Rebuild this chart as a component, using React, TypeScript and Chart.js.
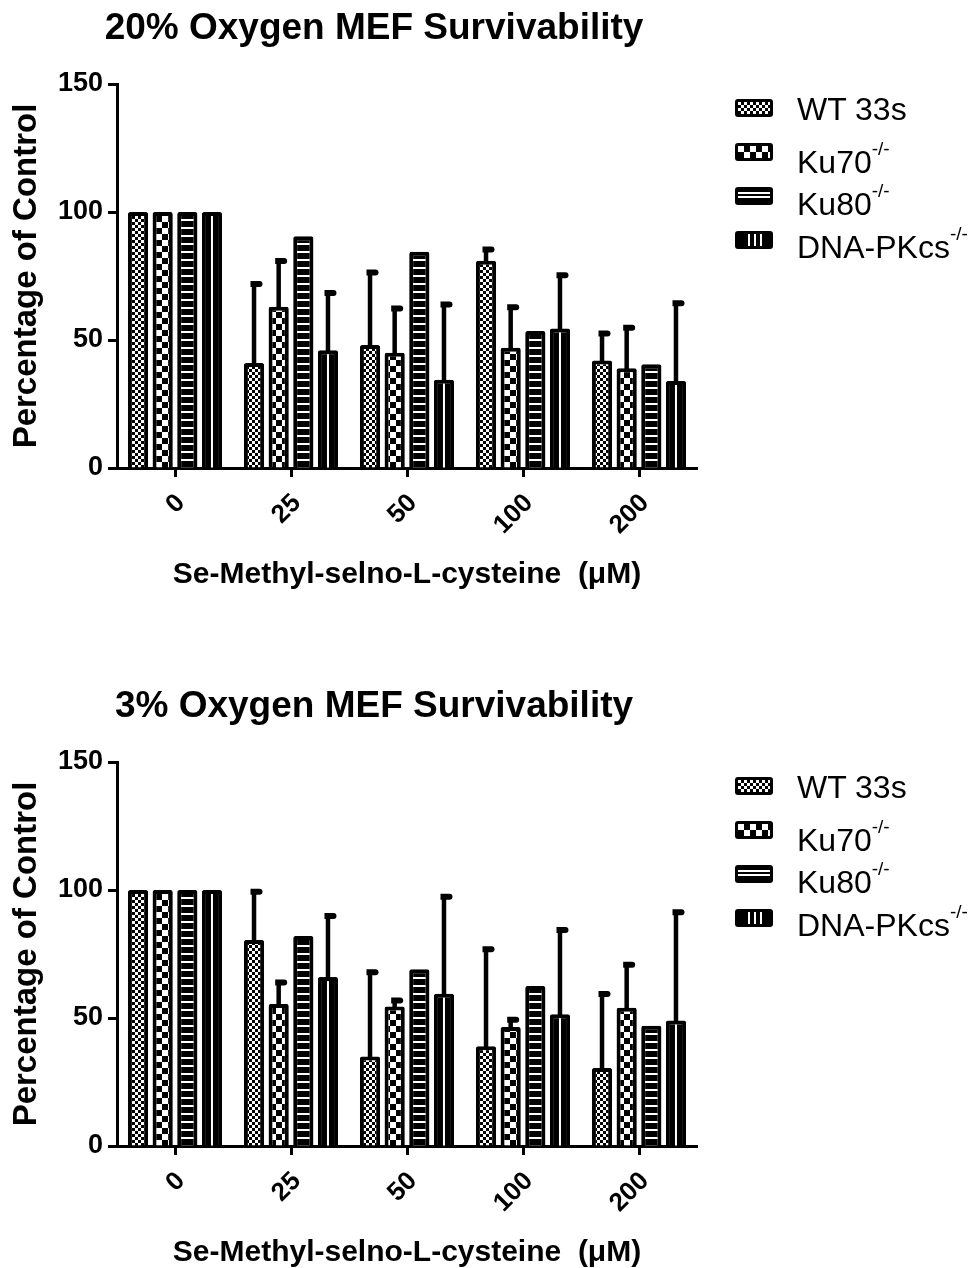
import React, { useEffect, useRef } from 'react';
import { Chart, registerables } from 'chart.js';

Chart.register(...registerables);

const FONT = "'Liberation Sans', Arial, Helvetica, sans-serif";

const categories = ['0', '25', '50', '100', '200'];
const yTickValues = [0, 50, 100, 150];
const xAxisTitle = 'Se-Methyl-selno-L-cysteine  (\u03BCM)';
const yAxisTitle = 'Percentage of Control';
const seriesLabels = ['WT 33s', 'Ku70', 'Ku80', 'DNA-PKcs'];
const seriesSuperscripts = ['', '-/-', '-/-', '-/-'];

// 20% oxygen
const o20Title = '20% Oxygen MEF Survivability';
const o20WT = [100, 41, 48, 81, 42];
const o20WTErr = [0, 32, 29.5, 5.5, 11.7];
const o20Ku70 = [100, 63, 45, 47, 39];
const o20Ku70Err = [0, 19, 18.5, 17, 17];
const o20Ku80 = [100, 90.5, 84.5, 53.5, 40.5];
const o20Ku80Err = [0, 0, 0, 0, 0];
const o20DNA = [100, 46, 34.5, 54.5, 34];
const o20DNAErr = [0, 23.5, 30.5, 22, 31.5];

// 3% oxygen
const o3Title = '3% Oxygen MEF Survivability';
const o3WT = [100, 80.5, 35, 39, 30.5];
const o3WTErr = [0, 20, 34, 39, 30];
const o3Ku70 = [100, 55.5, 54.5, 46.5, 54];
const o3Ku70Err = [0, 9.5, 3.5, 4, 18];
const o3Ku80 = [100, 82, 69, 62.5, 47];
const o3Ku80Err = [0, 0, 0, 0, 0];
const o3DNA = [100, 66, 59.5, 51.5, 49];
const o3DNAErr = [0, 25, 39, 34, 43.5];

function makeTile(w: number, h: number, draw: (c: CanvasRenderingContext2D) => void) {
  const c = document.createElement('canvas');
  c.width = w;
  c.height = h;
  draw(c.getContext('2d') as CanvasRenderingContext2D);
  return c;
}

const errorBarPlugin = {
  id: 'errorBarsAndLines',
  afterDatasetsDraw(chart: any) {
    const ctx = chart.ctx;
    const yScale = chart.scales.y;
    ctx.save();
    chart.data.datasets.forEach((ds: any, i: number) => {
      const meta = chart.getDatasetMeta(i);
      meta.data.forEach((el: any, j: number) => {
        const p = el.getProps(['x', 'y', 'base', 'width'], true);
        if (ds.centerLine) {
          ctx.fillStyle = '#fff';
          ctx.fillRect(p.x - 1, p.y + 4, 2, p.base - p.y - 4);
        }
        const err = ds.errors ? ds.errors[j] : 0;
        if (err > 0) {
          const top = yScale.getPixelForValue(ds.data[j] + err);
          ctx.strokeStyle = '#000';
          ctx.lineWidth = 4.5;
          ctx.beginPath();
          ctx.moveTo(p.x, p.y + 2);
          ctx.lineTo(p.x, top + 3);
          ctx.stroke();
          ctx.fillStyle = '#000';
          ctx.beginPath();
          ctx.moveTo(p.x - 3.5, top);
          ctx.lineTo(p.x + 5.5, top);
          ctx.arc(p.x + 5.5, top + 3, 3, -Math.PI / 2, Math.PI / 2);
          ctx.lineTo(p.x - 3.5, top + 6);
          ctx.closePath();
          ctx.fill();
        }
      });
    });
    ctx.restore();
  },
};

type Series = { data: number[]; errors: number[] };

function SurvivalChart(props: { title: string; series: Series[]; height: number; padBottom: number }) {
  const ref = useRef<HTMLCanvasElement | null>(null);
  useEffect(() => {
    const canvas = ref.current;
    if (!canvas) return;
    const ctx = canvas.getContext('2d') as CanvasRenderingContext2D;
    const fine = makeTile(6, 6, (c) => {
      c.fillStyle = '#fff';
      c.fillRect(0, 0, 6, 6);
      c.fillStyle = '#000';
      c.fillRect(0, 0, 3, 3);
      c.fillRect(3, 3, 3, 3);
    });
    const coarse = makeTile(12, 12, (c) => {
      c.fillStyle = '#fff';
      c.fillRect(0, 0, 12, 12);
      c.fillStyle = '#000';
      c.fillRect(0, 0, 6, 6);
      c.fillRect(6, 6, 6, 6);
    });
    const hLines = makeTile(4, 8, (c) => {
      c.fillStyle = '#000';
      c.fillRect(0, 0, 4, 8);
      c.fillStyle = '#fff';
      c.fillRect(0, 3, 4, 2);
    });
    const fills = [
      ctx.createPattern(fine, 'repeat'),
      ctx.createPattern(coarse, 'repeat'),
      ctx.createPattern(hLines, 'repeat'),
      '#000',
    ];
    const datasets = props.series.map((s, i) => ({
      label: seriesLabels[i],
      data: s.data,
      errors: s.errors,
      centerLine: i === 3,
      backgroundColor: fills[i],
      borderColor: '#000',
      borderWidth: 4,
      borderRadius: 2,
      borderSkipped: 'start',
      categoryPercentage: 0.85,
      barPercentage: 0.82,
    }));
    const chart = new Chart(canvas, {
      type: 'bar',
      data: { labels: categories, datasets: datasets as any },
      plugins: [errorBarPlugin],
      options: {
        responsive: false,
        animation: false,
        events: [],
        layout: { padding: { left: 0, right: 0, top: 0, bottom: props.padBottom } },
        plugins: {
          legend: { display: false },
          tooltip: { enabled: false },
          title: {
            display: true,
            text: props.title,
            color: '#000',
            font: { family: FONT, size: 37, weight: 'bold', lineHeight: 1.2 },
            padding: { top: 7, bottom: 32.6 },
          },
        },
        scales: {
          x: {
            type: 'category',
            offset: true,
            grid: {
              offset: false,
              drawOnChartArea: false,
              drawTicks: true,
              tickLength: 9,
              tickWidth: 3,
              tickColor: '#000',
            },
            border: { display: true, color: '#000', width: 3 },
            ticks: {
              color: '#000',
              font: { family: FONT, size: 26, weight: 'bold' },
              minRotation: 45,
              maxRotation: 45,
              labelOffset: 6,
              padding: 11,
              autoSkip: false,
            },
            title: {
              display: true,
              text: xAxisTitle,
              color: '#000',
              font: { family: FONT, size: 30, weight: 'bold', lineHeight: 1 },
              padding: { top: 0, bottom: 0 },
            },
            afterFit: (s: any) => {
              s.height = 122;
            },
          },
          y: {
            type: 'linear',
            min: 0,
            max: 150,
            grid: {
              drawOnChartArea: false,
              drawTicks: true,
              tickLength: 9,
              tickWidth: 3,
              tickColor: '#000',
            },
            border: { display: true, color: '#000', width: 3 },
            ticks: {
              color: '#000',
              font: { family: FONT, size: 27, weight: 'bold' },
              padding: 5,
            },
            afterBuildTicks: (s: any) => {
              s.ticks = yTickValues.map((v) => ({ value: v }));
            },
            title: {
              display: true,
              text: yAxisTitle,
              color: '#000',
              font: { family: FONT, size: 33, weight: 'bold', lineHeight: 1.2 },
              padding: { top: 7, bottom: 0 },
            },
            afterFit: (s: any) => {
              s.width = 117;
            },
          },
          yr: {
            type: 'linear',
            position: 'right',
            display: true,
            grid: { display: false },
            border: { display: false },
            ticks: { display: false },
            afterFit: (s: any) => {
              s.width = 51;
            },
          },
        },
      } as any,
    });
    return () => chart.destroy();
  }, []);
  return (
    <canvas
      ref={ref}
      width={748}
      height={props.height}
      style={{ position: 'absolute', left: 0, top: 0, width: 748, height: props.height }}
    />
  );
}

const swatchBackgrounds = [
  'repeating-conic-gradient(#000 0 25%, #fff 0 50%) 0 0 / 6px 6px',
  'repeating-conic-gradient(#000 0 25%, #fff 0 50%) 0 0 / 12px 12px',
  'linear-gradient(to bottom, #000 0 2px, #fff 2px 4px, #000 4px 6px, #fff 6px 8px, #000 8px)',
  'linear-gradient(to right, #000 0 10px, #fff 10px 12px, #000 12px 16px, #fff 16px 18px, #000 18px 22px, #fff 22px 24px, #000 24px)',
];
const legendSwatchTops = [99, 143, 187, 231];
const legendBaselines = [120, 173, 215, 258];

function Legend() {
  return (
    <div style={{ position: 'absolute', left: 0, top: 0 }}>
      {seriesLabels.map((lab, i) => (
        <React.Fragment key={lab}>
          <div
            style={{
              position: 'absolute',
              left: 735,
              top: legendSwatchTops[i],
              width: 38,
              height: 18,
              boxSizing: 'border-box',
              border: '3px solid #000',
              borderRadius: 3,
              background: swatchBackgrounds[i],
            }}
          />
          <div
            style={{
              position: 'absolute',
              left: 797,
              top: legendBaselines[i] - 27,
              fontFamily: FONT,
              fontSize: 32,
              lineHeight: '32px',
              color: '#000',
              whiteSpace: 'nowrap',
            }}
          >
            {lab}
            {seriesSuperscripts[i] ? (
              <span style={{ position: 'relative', top: -18, fontSize: 19 }}>{seriesSuperscripts[i]}</span>
            ) : null}
          </div>
        </React.Fragment>
      ))}
    </div>
  );
}

export default function App() {
  const top: Series[] = [
    { data: o20WT, errors: o20WTErr },
    { data: o20Ku70, errors: o20Ku70Err },
    { data: o20Ku80, errors: o20Ku80Err },
    { data: o20DNA, errors: o20DNAErr },
  ];
  const bottom: Series[] = [
    { data: o3WT, errors: o3WTErr },
    { data: o3Ku70, errors: o3Ku70Err },
    { data: o3Ku80, errors: o3Ku80Err },
    { data: o3DNA, errors: o3DNAErr },
  ];
  return (
    <div style={{ position: 'absolute', left: 0, top: 0, width: 977, height: 1268, overflow: 'hidden', background: '#fff' }}>
      <div style={{ position: 'absolute', left: 0, top: 0, width: 977, height: 678 }}>
        <SurvivalChart title={o20Title} series={top} height={678} padBottom={88} />
        <Legend />
      </div>
      <div style={{ position: 'absolute', left: 0, top: 678, width: 977, height: 590 }}>
        <SurvivalChart title={o3Title} series={bottom} height={590} padBottom={0} />
        <Legend />
      </div>
    </div>
  );
}
